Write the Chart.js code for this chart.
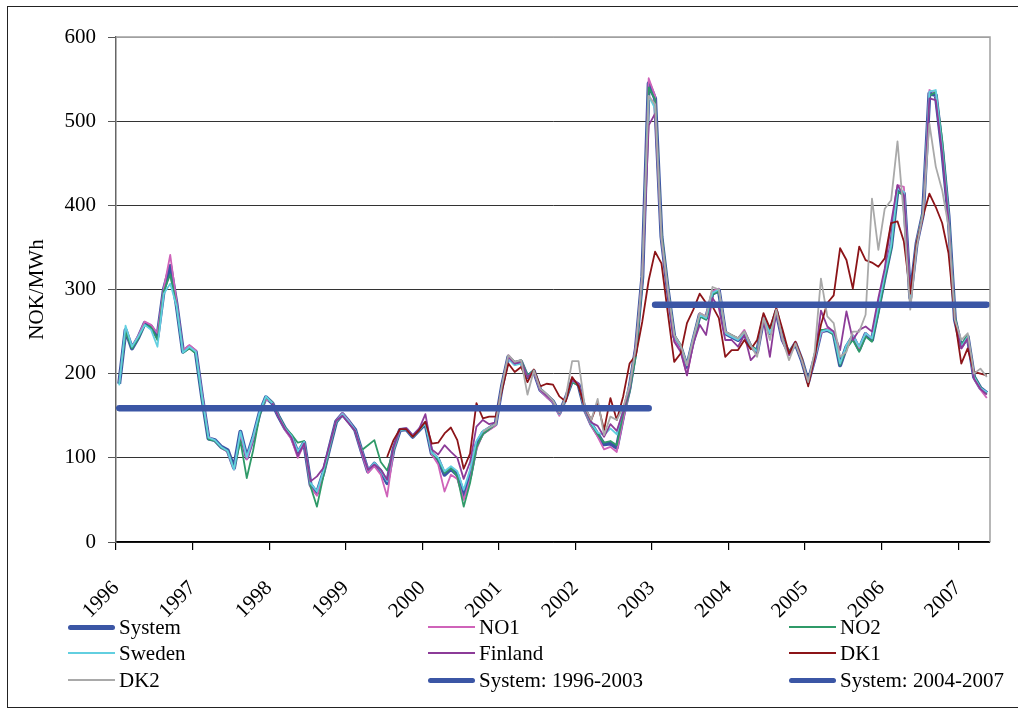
<!DOCTYPE html>
<html>
<head>
<meta charset="utf-8">
<title>Nord Pool monthly prices</title>
<script src="https://cdn.jsdelivr.net/npm/chart.js@4.4.1/dist/chart.umd.min.js"></script>
<style>
    body { margin: 0; background: #fff; overflow: hidden; width: 1018px; height: 711px; position: relative; }
    #frame { position: absolute; left: 7px; top: 6px; width: 1100px; height: 700px; border: 1.5px solid #222; }
    #priceChart { position: absolute; left: 0; top: 0; }
    #legend { position: absolute; left: 0; top: 0; font-family: "Liberation Serif", "Times New Roman", serif; font-size: 21px; color: #000; }
    .item { position: absolute; height: 26px; line-height: 26px; white-space: nowrap; }
    .swatch { position: absolute; left: 0; top: 50%; width: 47px; }
    .item span { position: absolute; left: 51px; top: 0; }
</style>
</head>
<body>
<div id="frame"></div>
<canvas id="priceChart" width="1018" height="711"></canvas>
<div id="legend"></div>
<script>
// monthly prices, Jan 1996 - May 2007 (NOK/MWh)
const yearLabels = ['1996', '1997', '1998', '1999', '2000', '2001', '2002', '2003', '2004', '2005', '2006', '2007'];

const system = [
    188, 252, 230, 243, 260, 256, 244, 300, 328, 282, 226, 232,
    226, 172, 123, 121, 113, 109, 88, 131, 100, 124, 153, 172,
    165, 149, 135, 125, 106, 118, 68, 58, 82, 113, 143, 152,
    143, 133, 108, 84, 93, 84, 70, 110, 133, 134, 125, 133,
    141, 105, 98, 80, 87, 80, 56, 78, 116, 130, 135, 140,
    185, 220, 212, 214, 196, 203, 181, 174, 167, 153, 171, 192,
    187, 157, 140, 128, 116, 117, 112, 150, 183, 230, 315, 545,
    527, 363, 299, 244, 232, 208, 240, 270, 266, 295, 299, 248,
    244, 240, 248, 232, 226, 266, 248, 274, 240, 224, 236, 216,
    190, 218, 250, 252, 248, 210, 232, 244, 229, 247, 240, 277,
    315, 351, 418, 414, 290, 355, 390, 533, 531, 466, 387, 264,
    232, 244, 196, 183, 177
];

const no1 = [
    190, 250, 232, 245, 262, 258, 248, 302, 341, 285, 228, 234,
    228, 175, 125, 120, 112, 107, 86, 128, 98, 122, 152, 170,
    166, 150, 133, 122, 100, 117, 65, 55, 80, 112, 144, 153,
    144, 132, 106, 82, 90, 80, 54, 108, 133, 135, 126, 134,
    142, 104, 92, 60, 80, 75, 50, 74, 110, 128, 133, 138,
    184, 222, 214, 216, 197, 202, 180, 172, 166, 150, 170, 193,
    188, 155, 138, 125, 110, 113, 107, 145, 180, 228, 318, 551,
    530, 366, 301, 240, 228, 198, 236, 272, 268, 298, 301, 250,
    246, 242, 252, 234, 228, 268, 250, 276, 242, 222, 238, 218,
    188, 216, 248, 254, 250, 212, 230, 246, 230, 248, 242, 279,
    318, 354, 424, 422, 292, 357, 392, 537, 533, 470, 390, 266,
    230, 242, 194, 181, 171
];

const no2 = [
    188, 250, 230, 242, 258, 255, 240, 298, 318, 280, 225, 230,
    224, 170, 122, 120, 112, 108, 87, 120, 76, 109, 150, 172,
    166, 150, 136, 128, 118, 120, 66, 42, 78, 112, 142, 151,
    142, 132, 109, 115, 121, 95, 85, 108, 133, 134, 125, 133,
    140, 106, 98, 82, 88, 78, 42, 70, 112, 128, 134, 140,
    186, 221, 214, 216, 198, 204, 182, 175, 168, 152, 170, 190,
    186, 156, 140, 128, 118, 120, 115, 152, 178, 222, 308, 540,
    526, 368, 302, 246, 234, 210, 240, 268, 264, 294, 298, 250,
    246, 242, 250, 234, 228, 264, 250, 274, 240, 226, 236, 218,
    190, 218, 252, 252, 246, 210, 230, 240, 226, 244, 238, 272,
    312, 348, 416, 412, 292, 356, 392, 530, 535, 478, 392, 268,
    234, 246, 198, 184, 176
];

const sweden = [
    186, 257, 232, 244, 258, 252, 232, 295, 307, 280, 225, 232,
    226, 172, 124, 121, 113, 108, 86, 131, 101, 125, 154, 173,
    165, 149, 135, 126, 108, 119, 70, 60, 84, 114, 143, 152,
    143, 133, 109, 86, 94, 85, 72, 110, 133, 134, 125, 133,
    141, 106, 100, 84, 90, 84, 62, 86, 120, 132, 136, 140,
    184, 218, 210, 212, 196, 203, 181, 174, 167, 152, 171, 192,
    187, 157, 141, 130, 127, 135, 128, 158, 185, 232, 312, 530,
    515, 360, 298, 244, 233, 210, 242, 270, 266, 296, 300, 248,
    244, 240, 248, 233, 226, 266, 248, 274, 240, 224, 236, 216,
    190, 218, 250, 252, 248, 212, 234, 245, 232, 248, 242, 280,
    318, 352, 420, 416, 290, 354, 390, 535, 537, 468, 388, 264,
    232, 244, 196, 183, 178
];

const finland = [
    null, null, null, null, null, null, null, null, null, null, null, null,
    null, null, null, null, null, null, null, null, null, null, null, null,
    165, 148, 134, 124, 102, 117, 72, 78, 88, 116, 144, 150,
    141, 132, 108, 86, 92, 86, 74, 112, 134, 135, 126, 134,
    152, 110, 104, 115, 107, 100, 75, 95, 137, 145, 140, 142,
    186, 220, 212, 214, 196, 203, 181, 174, 167, 153, 172, 192,
    188, 158, 142, 138, 125, 140, 132, 155, 182, 235, 312, 495,
    509, 360, 296, 238, 226, 198, 236, 258, 246, 290, 278, 240,
    240, 232, 246, 216, 224, 264, 220, 274, 238, 222, 236, 216,
    190, 216, 275, 256, 250, 228, 274, 240, 252, 256, 250, 290,
    325, 379, 424, 412, 295, 352, 388, 527, 525, 462, 382, 262,
    230, 242, 194, 182, 175
];

const dk1 = [
    null, null, null, null, null, null, null, null, null, null, null, null,
    null, null, null, null, null, null, null, null, null, null, null, null,
    null, null, null, null, null, null, null, null, null, null, null, null,
    null, null, null, null, null, null, 101, 121, 134, 134, 125, 133,
    143, 117, 118, 129, 136, 121, 87, 105, 165, 147, 149, 149,
    180, 212, 202, 208, 190, 205, 185, 188, 187, 173, 167, 196,
    185, 160, 145, 165, 133, 171, 145, 173, 212, 222, 262, 311,
    345, 331, 272, 214, 224, 260, 276, 295, 284, 280, 266, 220,
    228, 228, 240, 229, 240, 272, 254, 278, 252, 224, 238, 218,
    185, 220, 258, 284, 293, 349, 335, 301, 351, 335, 332, 327,
    337, 379, 381, 357, 295, 355, 387, 414, 398, 379, 343, 264,
    212, 230, 202, 200, 198
];

const dk2 = [
    null, null, null, null, null, null, null, null, null, null, null, null,
    null, null, null, null, null, null, null, null, null, null, null, null,
    null, null, null, null, null, null, null, null, null, null, null, null,
    null, null, null, null, null, null, null, null, null, null, null, null,
    null, null, null, null, null, null, null, null, null, 131, 136, 140,
    186, 222, 214, 216, 175, 204, 182, 176, 168, 154, 172, 215,
    215, 160, 145, 170, 127, 149, 145, 160, 185, 232, 318, 530,
    520, 362, 300, 246, 234, 210, 242, 272, 268, 303, 300, 250,
    246, 242, 250, 234, 220, 266, 240, 276, 240, 216, 236, 216,
    190, 225, 313, 268, 260, 220, 226, 250, 250, 270, 408, 347,
    396, 406, 476, 387, 276, 350, 390, 497, 446, 418, 375, 264,
    240, 248, 200, 206, 196
];

// period averages of the system price
const avgValues = [159, 282];
const avgFirstMonth = [0, 84];
const avgLastMonth = [83, 136];

document.addEventListener('DOMContentLoaded', function() {
    const serif = '"Liberation Serif", "Times New Roman", serif';

    function toPoints(values) {
        return values.map((v, i) => ({ x: i + 0.5, y: v }));
    }

    function avgPoints(k) {
        return [
            { x: avgFirstMonth[k] + 0.5, y: avgValues[k] },
            { x: avgLastMonth[k] + 0.5, y: avgValues[k] }
        ];
    }

    const series = [
        { label: 'System', data: toPoints(system), color: '#3b56a5', width: 4 },
        { label: 'NO1', data: toPoints(no1), color: '#cf63b9', width: 1.8 },
        { label: 'NO2', data: toPoints(no2), color: '#2f9a68', width: 1.8 },
        { label: 'Sweden', data: toPoints(sweden), color: '#62cfe0', width: 1.8 },
        { label: 'Finland', data: toPoints(finland), color: '#8c3b98', width: 1.8 },
        { label: 'DK1', data: toPoints(dk1), color: '#8c1418', width: 1.8 },
        { label: 'DK2', data: toPoints(dk2), color: '#a9a9a9', width: 1.8 },
        { label: 'System: 1996-2003', data: avgPoints(0), color: '#3b56a5', width: 6.5, cap: 'round' },
        { label: 'System: 2004-2007', data: avgPoints(1), color: '#3b56a5', width: 6.5, cap: 'round' }
    ];

    const datasets = series.map((s, i) => ({
        label: s.label,
        data: s.data,
        borderColor: s.color,
        backgroundColor: s.color,
        borderWidth: s.width,
        borderCapStyle: s.cap || 'butt',
        borderJoinStyle: 'round',
        pointRadius: 0,
        tension: 0,
        fill: false,
        spanGaps: false,
        order: series.length - i
    }));

    const plotFrame = {
        id: 'plotFrame',
        afterDatasetsDraw(chart) {
            const { ctx, chartArea: a } = chart;
            ctx.save();
            ctx.strokeStyle = '#a0a0a0';
            ctx.lineWidth = 1.5;
            ctx.beginPath();
            ctx.moveTo(a.left, a.top);
            ctx.lineTo(a.right, a.top);
            ctx.lineTo(a.right, a.bottom);
            ctx.stroke();
            ctx.restore();
        }
    };

    new Chart(document.getElementById('priceChart'), {
        type: 'line',
        data: { datasets },
        plugins: [plotFrame],
        options: {
            responsive: false,
            animation: false,
            events: [],
            layout: { padding: { left: 0, top: 37, right: 28, bottom: 0 } },
            plugins: {
                legend: { display: false },
                tooltip: { enabled: false }
            },
            scales: {
                x: {
                    type: 'linear',
                    min: 0,
                    max: 137,
                    afterFit: function(scale) { scale.height = 169; },
                    border: { display: true, color: '#000', width: 1.5 },
                    grid: { drawOnChartArea: false, drawTicks: true, tickLength: 8, color: '#000', lineWidth: 1.2 },
                    ticks: {
                        stepSize: 12,
                        includeBounds: false,
                        autoSkip: false,
                        minRotation: 45,
                        maxRotation: 45,
                        padding: 26,
                        color: '#000',
                        font: { family: serif, size: 21 },
                        callback: function(value) {
                            return yearLabels[value / 12];
                        }
                    }
                },
                y: {
                    min: 0,
                    max: 600,
                    afterFit: function(scale) { scale.width = 116; },
                    border: { display: true, color: '#666', width: 1.5 },
                    grid: {
                        color: function(context) {
                            return context.tick && context.tick.value === 600 ? '#a0a0a0' : '#333';
                        },
                        lineWidth: 1,
                        tickLength: 8,
                        tickColor: '#555'
                    },
                    title: {
                        display: true,
                        text: 'NOK/MWh',
                        color: '#000',
                        font: { family: serif, size: 21 },
                        padding: { top: 25, bottom: 0 }
                    },
                    ticks: {
                        stepSize: 100,
                        padding: 12,
                        color: '#000',
                        font: { family: serif, size: 21 }
                    }
                }
            }
        }
    });

    // legend in three columns, as in the original
    const legend = document.getElementById('legend');
    const colLeft = [68, 428, 789];
    const rowTop = [614, 640, 667];
    series.forEach((s, i) => {
        const item = document.createElement('div');
        item.className = 'item';
        item.style.left = colLeft[i % 3] + 'px';
        item.style.top = rowTop[Math.floor(i / 3)] + 'px';
        const swatch = document.createElement('div');
        swatch.className = 'swatch';
        const h = s.width > 3 ? 5 : 2.5;
        swatch.style.height = h + 'px';
        swatch.style.marginTop = (-h / 2) + 'px';
        swatch.style.background = s.color;
        if (s.width > 3) swatch.style.borderRadius = '2.5px';
        const text = document.createElement('span');
        text.textContent = s.label;
        item.appendChild(swatch);
        item.appendChild(text);
        legend.appendChild(item);
    });
});
</script>
</body>
</html>
